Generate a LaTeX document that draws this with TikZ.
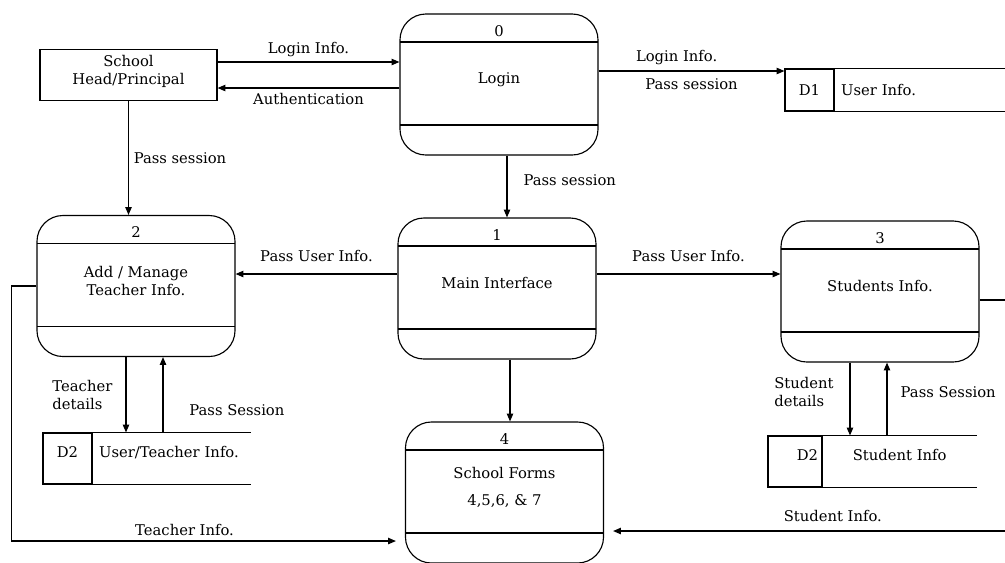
\documentclass[tikz,border=0pt]{standalone}
\usepackage{fontspec}
\setmainfont{DejaVu Serif}
\usetikzlibrary{arrows.meta,positioning}

\begin{document}
\begin{tikzpicture}[x=0.025cm,y=-0.025cm,line width=0.8pt,font=\fontsize{10.5}{12.5}\selectfont,
  procbox/.style 2 args={draw,rounded corners=0.65cm,minimum width=4.95cm,minimum height=3.525cm,
    path picture={\draw ([yshift=-0.7cm]path picture bounding box.north west) -- ([yshift=-0.7cm]path picture bounding box.north east)
      ([yshift=0.75cm]path picture bounding box.south west) -- ([yshift=0.75cm]path picture bounding box.south east);},
    label={[anchor=center,yshift=-0.4375cm]north:#1},
    label={[anchor=center,yshift=-1.65cm,align=center]north:{#2}}},
  entity/.style={draw,minimum width=4.425cm,minimum height=1.275cm,align=center,inner sep=2pt},
  storeid/.style={draw,minimum width=1.225cm,minimum height=1.275cm,inner sep=0pt},
  storename/.style={minimum height=1.275cm,inner xsep=0.15cm,inner ysep=0pt,align=left},
  lowtext/.style={text height=7pt,text depth=8pt},
  flow/.style={-{Triangle[length=5.5pt,width=4.5pt]}}]
  \useasboundingbox (0,0) rectangle (1005,562);
  % External entity
  \node[entity] (head) at (128.5,75) {School\\Head/Principal\\[-5pt]};
  % Processes
  \node[procbox={0}{Login}] (login) at (499,84.5) {};
  \node[procbox={1}{Main Interface}] (main) at (497,288.5) {};
  \node[procbox={2}{Add / Manage\\Teacher Info.}] (teacher) at (136,286) {};
  \node[procbox={3}{Students Info.}] (students) at (880,291.5) {};
  \node[procbox={4}{School Forms\\[7pt]4,5,6, \& 7}] (forms) at (504.5,492.5) {};
  % Data stores
  \node[storeid,minimum height=1.05cm] (d1) at (809.5,90) {D1};
  \node[storename,minimum height=1.05cm,text width=4.1cm,right=0pt of d1] (d1name) {User Info.};
  \node[storeid,lowtext] (d2) at (67.5,458.5) {D2};
  \node[storename,lowtext,text width=3.625cm,right=0pt of d2] (d2name) {User/Teacher Info.};
  \node[storeid,lowtext,minimum width=1.35cm,inner xsep=0.1cm,align=right,text width=1.15cm] (d3) at (795,461.5) {D2};
  \node[storename,lowtext,text width=3.525cm,align=center,right=0pt of d3] (d3name) {Student Info};
  \foreach \s in {d1name,d2name,d3name}
    \draw (\s.north west) -- (\s.north east) (\s.south west) -- (\s.south east);
  % Login exchange
  \draw[flow] ([yshift=0.325cm]head.east) -- ([yshift=0.325cm]head.east -| login.west)
    node[midway,above] (lbl1) {Login Info.};
  \draw[flow] ([yshift=-0.325cm]head.east -| login.west) -- ([yshift=-0.325cm]head.east)
    node[midway,below] (lbl2) {Authentication};
  \draw[flow] ([yshift=0.3375cm]login.east) -- ([yshift=0.3375cm]login.east -| d1.west)
    node[pos=0.42,above=1pt] (lbl3) {Login Info.} node[midway,below=2pt] (lbl4) {Pass session};
  \draw[flow] ([xshift=0.2cm]login.south) -- ([xshift=0.2cm]login.south |- main.north)
    node[pos=0.4,right=8pt] (lbl5) {Pass session};
  \draw[flow] (head.south) -- (head.south |- teacher.north)
    node[midway,right] (lbl6) {Pass session};
  % Main interface
  \draw[flow] ([yshift=0.3625cm]main.west) -- ([yshift=0.3625cm]main.west -| teacher.east)
    node[midway,above=5pt] (lbl7) {Pass User Info.};
  \draw[flow] ([yshift=0.3625cm]main.east) -- ([yshift=0.3625cm]main.east -| students.west)
    node[midway,above=5pt] (lbl8) {Pass User Info.};
  \draw[flow] ([xshift=0.325cm]main.south) -- ([xshift=0.325cm]main.south |- forms.north);
  % Teacher store
  \draw[flow] ([xshift=-0.25cm]teacher.south) -- ([xshift=-0.25cm]teacher.south |- d2name.north)
    node[midway,left=6pt,align=left] (lbl9) {Teacher\\details};
  \draw[flow] ([xshift=0.675cm]teacher.south |- d2name.north) -- ([xshift=0.675cm]teacher.south)
    node[pos=0.3,right=15pt] (lbl10) {Pass Session};
  % Student store
  \draw[flow] ([xshift=-0.75cm]students.south) -- ([xshift=-0.75cm]students.south |- d3name.north)
    node[pos=0.4,left=8pt,align=left] (lbl11) {Student\\details};
  \draw[flow] ([xshift=0.175cm]students.south |- d3name.north) -- ([xshift=0.175cm]students.south)
    node[pos=0.6,right=6pt] (lbl12) {Pass Session};
  % Into school forms
  \draw[flow,shorten >=0.225cm] (teacher.west) -- ++(-25,0) |- ([yshift=-1.2125cm]forms.west)
    node[pos=0.72,above] (lbl13) {Teacher Info.};
  \draw[flow,shorten >=0.225cm] ([yshift=-0.2125cm]students.east) -- ++(33,0) |- ([yshift=-0.9625cm]forms.east)
    node[pos=0.72,above=3pt] (lbl14) {Student Info.};
\end{tikzpicture}
\end{document}
